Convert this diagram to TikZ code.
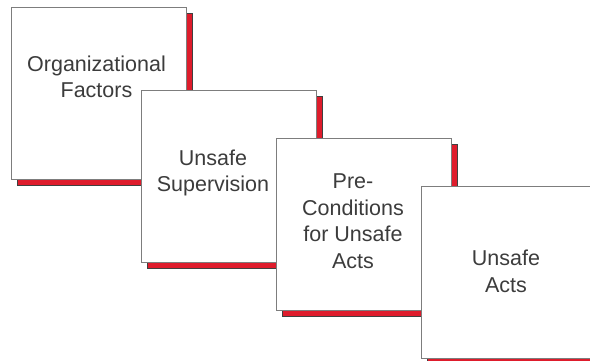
\documentclass[tikz,border=0pt]{standalone}
\usepackage{fontspec}
\setmainfont{Liberation Sans}
\usetikzlibrary{positioning}

\definecolor{barred}{RGB}{222,28,44}
\definecolor{edgegray}{RGB}{125,125,125}
\definecolor{textgray}{RGB}{60,60,60}

\tikzset{
	layerbox/.style={draw=edgegray, line width=1.2pt, fill=white, minimum width=175pt, minimum height=172pt, inner sep=0pt, anchor=north west},
	layershadow/.style={draw=black!75, line width=0.8pt, fill=barred, minimum width=175pt, minimum height=172pt, inner sep=0pt, anchor=north west},
	layertext/.style={align=center, text=textgray, inner sep=0pt, font=\fontsize{21.5}{26.5}\selectfont}
}

\begin{document}
\begin{tikzpicture}[x=1pt,y=-1pt]
		%frame
		\useasboundingbox (0,0) rectangle (590,360);
		\clip (0,0) rectangle (590,360);
		
		%organizational factors
		\node[layershadow] (s1) at (17,12.5) {};
		\node[layerbox] (b1) at (11,7) {};
		\node[layertext] (t1) at (96.5,77) {Organizational\\Factors};
		
		%unsafe supervision
		\node[layershadow] (s2) at (147,95.5) {};
		\node[layerbox] (b2) at (141,90) {};
		\node[layertext] (t2) at (213,173) {Unsafe\\Supervision};
		
		%preconditions
		\node[layershadow] (s3) at (282,143.5) {};
		\node[layerbox] (b3) at (276,138) {};
		\node[layertext] (t3) at (353,221) {Pre-\\Conditions\\for Unsafe\\Acts};
		
		%unsafe acts
		\node[layershadow] (s4) at (427,191.5) {};
		\node[layerbox] (b4) at (421,186) {};
		\node[layertext] (t4) at (506,271.5) {Unsafe\\Acts};
\end{tikzpicture}
\end{document}
